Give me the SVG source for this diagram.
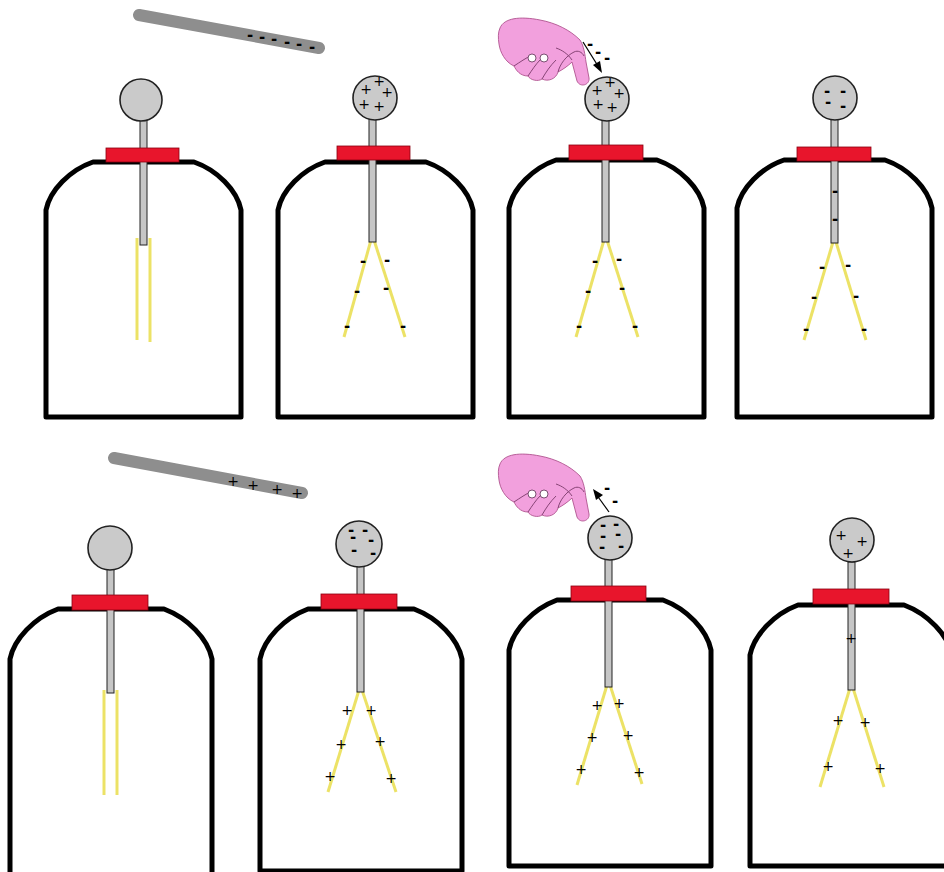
<svg xmlns="http://www.w3.org/2000/svg" width="944" height="872" viewBox="0 0 944 872">
  <style>
    .jar { fill: none; stroke: #000; stroke-width: 5; stroke-linejoin: round; }
    .rod { fill: #c6c6c6; stroke: #222; stroke-width: 1; }
    .cap { fill: #e8152c; stroke: #8a0010; stroke-width: 0.8; }
    .leaf { stroke: #ece266; stroke-width: 3; fill: none; }
    .ball { fill: #cacaca; stroke: #222; stroke-width: 1.6; }
    .wand { stroke: #8e8e8e; stroke-width: 12; stroke-linecap: round; fill: none; }
    .sign { font-family: "DejaVu Sans", sans-serif; font-size: 14px; fill: #000; text-anchor: middle; }
    .m { font-weight: bold; font-size: 15px; }
    .hand { fill: #f2a0dd; stroke: #b05590; stroke-width: 0.9; stroke-linejoin: round; }
    .crease { fill: none; stroke: #7a3a6a; stroke-width: 0.9; }
    .knuckle { fill: #fff; stroke: #5a2a50; stroke-width: 0.8; }
    .arrow { stroke: #000; stroke-width: 1.2; fill: none; }
  </style>
  <defs>
    <g id="handShape">
      <path class="hand" d="M500,28 C504,18 520,16 540,20 C556,23 570,30 580,40 C584,46 585,55 586,62 L589,78 C590,85 580,88 577,81 L572,62 C568,66 562,70 558,72 C556,79 548,82 542,79 C538,82 530,80 528,76 C520,76 516,70 514,66 C505,62 500,52 499,44 C498,38 498,32 500,28 Z"/>
      <path class="crease" d="M514,66 C520,62 526,58 532,55 M528,76 C532,70 536,64 540,60 M542,79 C546,72 550,66 556,60 M558,72 C560,64 566,56 574,52 M556,48 C562,50 568,54 572,60"/>
      <circle class="knuckle" cx="532" cy="58" r="4"/>
      <circle class="knuckle" cx="544" cy="58" r="4"/>
      <path class="crease" d="M574,52 C578,50 582,52 584,56"/>
    </g>
  </defs>

  <rect width="944" height="872" fill="#fff"/>

  <!-- charged wands -->
  <g id="wand-negative">
    <line class="wand" x1="139" y1="15" x2="319" y2="48"/>
    <text class="sign m" x="250" y="40">-</text>
    <text class="sign m" x="262" y="42">-</text>
    <text class="sign m" x="274" y="44">-</text>
    <text class="sign m" x="287" y="47">-</text>
    <text class="sign m" x="299" y="49">-</text>
    <text class="sign m" x="312" y="52">-</text>
  </g>
  <g id="wand-positive">
    <line class="wand" x1="114" y1="458" x2="302" y2="493"/>
    <text class="sign" x="233" y="486">+</text>
    <text class="sign" x="253" y="490">+</text>
    <text class="sign" x="277" y="494">+</text>
    <text class="sign" x="297" y="498">+</text>
  </g>

  <!-- top row -->
  <g id="scope-1">
    <path class="jar" d="M46,417 V210 C50,190 70,170 93,162 H194 C217,170 237,190 241,210 V417 Z"/>
    <line class="leaf" x1="137" y1="238" x2="137" y2="340"/>
    <line class="leaf" x1="150" y1="238" x2="150" y2="342"/>
    <rect class="rod" x="140" y="118" width="7" height="127"/>
    <rect class="cap" x="106" y="148" width="73" height="14"/>
    <circle class="ball" cx="141" cy="100" r="21"/>
  </g>

  <g id="scope-2">
    <path class="jar" d="M278,417 V210 C282,190 302,170 325,162 H426 C449,170 469,190 473,210 V417 Z"/>
    <line class="leaf" x1="371" y1="240" x2="344" y2="337"/>
    <line class="leaf" x1="374" y1="240" x2="405" y2="337"/>
    <rect class="rod" x="369" y="118" width="7" height="124"/>
    <rect class="cap" x="337" y="146" width="73" height="14"/>
    <circle class="ball" cx="375" cy="98" r="22"/>
    <text class="sign" x="366" y="94">+</text>
    <text class="sign" x="379" y="86">+</text>
    <text class="sign" x="387" y="97">+</text>
    <text class="sign" x="364" y="109">+</text>
    <text class="sign" x="379" y="111">+</text>
    <text class="sign m" x="363" y="266">-</text>
    <text class="sign m" x="387" y="265">-</text>
    <text class="sign m" x="357" y="296">-</text>
    <text class="sign m" x="386" y="293">-</text>
    <text class="sign m" x="347" y="331">-</text>
    <text class="sign m" x="403" y="331">-</text>
  </g>

  <g id="scope-3">
    <path class="jar" d="M509,417 V208 C513,188 533,168 556,160 H657 C680,168 700,188 704,208 V417 Z"/>
    <line class="leaf" x1="604" y1="240" x2="576" y2="337"/>
    <line class="leaf" x1="607" y1="240" x2="638" y2="337"/>
    <rect class="rod" x="602" y="119" width="7" height="123"/>
    <rect class="cap" x="569" y="145" width="74" height="15"/>
    <circle class="ball" cx="607" cy="99" r="22"/>
    <text class="sign" x="597" y="95">+</text>
    <text class="sign" x="610" y="87">+</text>
    <text class="sign" x="619" y="98">+</text>
    <text class="sign" x="598" y="109">+</text>
    <text class="sign" x="612" y="112">+</text>
    <text class="sign m" x="595" y="266">-</text>
    <text class="sign m" x="619" y="264">-</text>
    <text class="sign m" x="588" y="296">-</text>
    <text class="sign m" x="622" y="293">-</text>
    <text class="sign m" x="579" y="331">-</text>
    <text class="sign m" x="635" y="331">-</text>
  </g>

  <g id="scope-4">
    <path class="jar" d="M737,417 V208 C741,188 761,168 784,160 H885 C908,168 928,188 932,208 V417 Z"/>
    <line class="leaf" x1="833" y1="242" x2="804" y2="340"/>
    <line class="leaf" x1="836" y1="242" x2="866" y2="340"/>
    <rect class="rod" x="831" y="119" width="7" height="124"/>
    <rect class="cap" x="797" y="147" width="74" height="14"/>
    <circle class="ball" cx="835" cy="98" r="22"/>
    <text class="sign m" x="827" y="96">-</text>
    <text class="sign m" x="843" y="96">-</text>
    <text class="sign m" x="828" y="107">-</text>
    <text class="sign m" x="843" y="111">-</text>
    <text class="sign m" x="835" y="196">-</text>
    <text class="sign m" x="835" y="224">-</text>
    <text class="sign m" x="822" y="272">-</text>
    <text class="sign m" x="848" y="270">-</text>
    <text class="sign m" x="814" y="302">-</text>
    <text class="sign m" x="856" y="301">-</text>
    <text class="sign m" x="806" y="334">-</text>
    <text class="sign m" x="864" y="334">-</text>
  </g>

  <!-- bottom row -->
  <g id="scope-5">
    <path class="jar" d="M10,876 V659 C14,639 34,618 58,609 H164 C188,618 208,639 212,659 V876"/>
    <line class="leaf" x1="104" y1="690" x2="104" y2="795"/>
    <line class="leaf" x1="117" y1="690" x2="117" y2="795"/>
    <rect class="rod" x="107" y="566" width="7" height="127"/>
    <rect class="cap" x="72" y="595" width="76" height="15"/>
    <circle class="ball" cx="110" cy="548" r="22"/>
  </g>

  <g id="scope-6">
    <path class="jar" d="M260,871 V659 C264,639 284,618 308,609 H414 C438,618 458,639 462,659 V871 Z"/>
    <line class="leaf" x1="359" y1="690" x2="328" y2="792"/>
    <line class="leaf" x1="362" y1="690" x2="396" y2="792"/>
    <rect class="rod" x="357" y="564" width="7" height="128"/>
    <rect class="cap" x="321" y="594" width="76" height="15"/>
    <circle class="ball" cx="359" cy="544" r="23"/>
    <text class="sign m" x="351" y="535">-</text>
    <text class="sign m" x="365" y="535">-</text>
    <text class="sign m" x="353" y="542">-</text>
    <text class="sign m" x="371" y="545">-</text>
    <text class="sign m" x="354" y="555">-</text>
    <text class="sign m" x="373" y="558">-</text>
    <text class="sign" x="347" y="715">+</text>
    <text class="sign" x="371" y="715">+</text>
    <text class="sign" x="341" y="749">+</text>
    <text class="sign" x="380" y="746">+</text>
    <text class="sign" x="330" y="781">+</text>
    <text class="sign" x="391" y="783">+</text>
  </g>

  <g id="scope-7">
    <path class="jar" d="M509,866 V650 C513,630 533,609 557,600 H663 C687,609 707,630 711,650 V866 Z"/>
    <line class="leaf" x1="607" y1="685" x2="577" y2="785"/>
    <line class="leaf" x1="610" y1="685" x2="642" y2="784"/>
    <rect class="rod" x="605" y="558" width="7" height="129"/>
    <rect class="cap" x="571" y="586" width="75" height="15"/>
    <circle class="ball" cx="610" cy="538" r="22"/>
    <text class="sign m" x="603" y="530">-</text>
    <text class="sign m" x="616" y="529">-</text>
    <text class="sign m" x="603" y="541">-</text>
    <text class="sign m" x="618" y="539">-</text>
    <text class="sign m" x="602" y="552">-</text>
    <text class="sign m" x="621" y="551">-</text>
    <text class="sign" x="597" y="710">+</text>
    <text class="sign" x="619" y="708">+</text>
    <text class="sign" x="592" y="742">+</text>
    <text class="sign" x="628" y="740">+</text>
    <text class="sign" x="581" y="774">+</text>
    <text class="sign" x="639" y="777">+</text>
  </g>

  <g id="scope-8">
    <path class="jar" d="M750,866 V655 C754,635 774,614 798,605 H904 C928,614 948,635 952,655 V866 Z"/>
    <line class="leaf" x1="850" y1="688" x2="820" y2="787"/>
    <line class="leaf" x1="853" y1="688" x2="884" y2="787"/>
    <rect class="rod" x="848" y="562" width="7" height="128"/>
    <rect class="cap" x="813" y="589" width="76" height="15"/>
    <circle class="ball" cx="852" cy="540" r="22"/>
    <text class="sign" x="841" y="540">+</text>
    <text class="sign" x="862" y="546">+</text>
    <text class="sign" x="848" y="558">+</text>
    <text class="sign" x="851" y="643">+</text>
    <text class="sign" x="838" y="725">+</text>
    <text class="sign" x="865" y="727">+</text>
    <text class="sign" x="828" y="771">+</text>
    <text class="sign" x="880" y="773">+</text>
  </g>

  <!-- grounding hands -->
  <g id="hand-top">
    <use href="#handShape"/>
    <line class="arrow" x1="583" y1="42" x2="598" y2="66"/>
    <polygon points="602,73 593,65 600,61" fill="#000"/>
    <text class="sign m" x="590" y="49">-</text>
    <text class="sign m" x="598" y="57">-</text>
    <text class="sign m" x="607" y="63">-</text>
  </g>
  <g id="hand-bottom">
    <use href="#handShape" transform="translate(0,436)"/>
    <line class="arrow" x1="609" y1="512" x2="596" y2="494"/>
    <polygon points="593,489 603,495 596,500" fill="#000"/>
    <text class="sign m" x="607" y="493">-</text>
    <text class="sign m" x="615" y="506">-</text>
  </g>
</svg>
